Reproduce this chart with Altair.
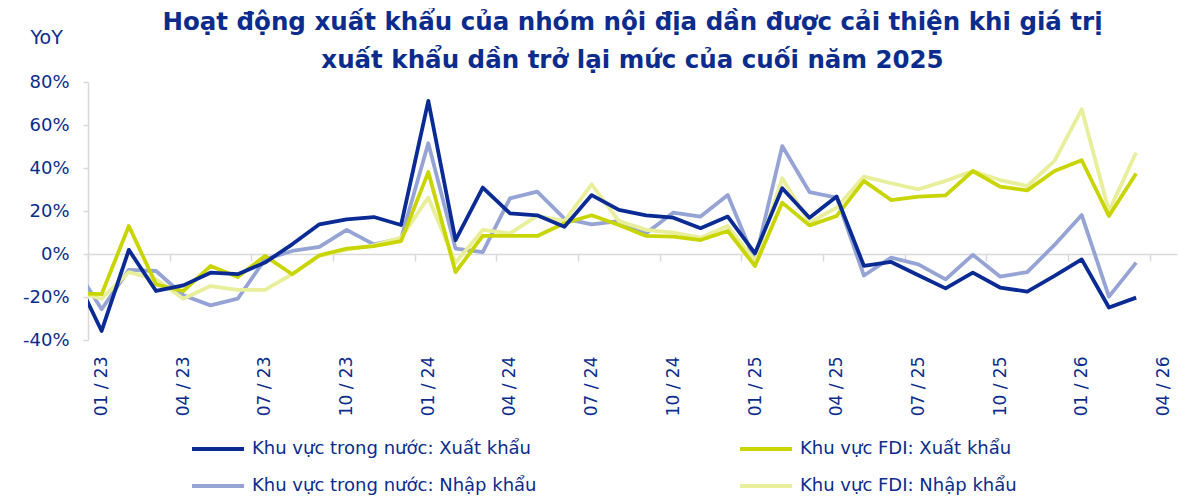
import altair as alt
import pandas as pd

# month index: -1 = 12/2022, 0 = 01/2023 ... 38 = 03/2026
month_index = list(range(-1, 39))

dom_export = [-9.4, -35.8, 1.9, -17.2, -14.6, -8.7, -9.4, -4.0, 4.5, 13.8,
              16.1, 17.2, 13.5, 71.2, 6.4, 30.9, 18.9, 18.0, 12.7, 27.4,
              20.5, 18.0, 16.9, 12.0, 17.4, 0.3, 30.6, 16.9, 26.7, -5.5,
              -3.7, -9.9, -16.0, -8.7, -15.6, -17.5, -10.2, -2.5, -24.9, -20.3]
fdi_export = [-18.1, -18.7, 13.0, -14.1, -17.2, -5.6, -10.7, -0.9, -9.4, -0.6,
              2.5, 3.7, 6.0, 38.1, -8.4, 8.4, 8.4, 8.4, 14.3, 18.0,
              13.5, 8.4, 8.1, 6.5, 10.7, -5.6, 23.9, 13.3, 17.7, 34.0,
              25.1, 26.7, 27.3, 38.6, 31.3, 29.6, 38.6, 43.6, 17.7, 37.4]
dom_import = [-5.5, -25.7, -7.4, -7.9, -19.2, -23.9, -20.8, -2.5, 1.4, 3.3,
              11.2, 4.5, 7.2, 51.5, 2.5, 0.9, 25.9, 29.0, 16.5, 13.8,
              15.3, 9.6, 19.3, 17.4, 27.4, -3.2, 50.2, 28.8, 26.2, -10.0,
              -1.7, -4.8, -11.8, -0.4, -10.5, -8.4, 4.2, 18.1, -19.8, -4.0]
fdi_import = [-17.4, -20.8, -8.4, -11.8, -20.8, -14.9, -16.7, -16.7, -9.4, -0.9,
              2.0, 4.0, 7.6, 26.2, -4.0, 11.2, 9.6, 17.7, 15.3, 32.4,
              15.3, 11.2, 9.9, 7.6, 13.0, -3.2, 35.2, 14.6, 21.6, 36.0,
              32.9, 30.1, 34.0, 38.6, 34.4, 31.6, 43.3, 67.3, 20.0, 47.2]

series_names = ["Khu vực trong nước: Xuất khẩu", "Khu vực FDI: Xuất khẩu",
                "Khu vực trong nước: Nhập khẩu", "Khu vực FDI: Nhập khẩu"]
series_colors = ["#0A2A94", "#C9D500", "#95A4D4", "#E8EE9A"]
draw_order = [2, 3, 1, 0]  # drawn bottom -> top

tick_labels = ["01 / 23", "04 / 23", "07 / 23", "10 / 23", "01 / 24", "04 / 24",
               "07 / 24", "10 / 24", "01 / 25", "04 / 25", "07 / 25", "10 / 25",
               "01 / 26", "04 / 26"]
y_ticks = [-40, -20, 0, 20, 40, 60, 80]
title_lines = ["Hoạt động xuất khẩu của nhóm nội địa dần được cải thiện khi giá trị",
               "xuất khẩu dần trở lại mức của cuối năm 2025"]

rows = []
for name, vals in zip(series_names, [dom_export, fdi_export, dom_import, fdi_import]):
    for m, v in zip(month_index, vals):
        rows.append({"m": m, "v": v, "s": name})
df = pd.DataFrame(rows)

TXT = "#0B2C8C"
GRID = "#D9D9D9"
FONT = "DejaVu Sans"

W, H = 1089, 258
ymin, ymax = -40, 80
zero_offset = -H * (0 - ymin) / (ymax - ymin)

x_tick_values = [-0.5 + 3 * k for k in range(len(tick_labels))]
label_expr = f"{tick_labels}[round((datum.value + 0.5) / 3)]"

x_enc = alt.X(
    "m:Q",
    scale=alt.Scale(domain=[-0.5, 39.5], nice=False, zero=False),
    axis=alt.Axis(
        values=x_tick_values, labelExpr=label_expr, title=None, grid=False,
        offset=zero_offset, domainColor=GRID, domainWidth=1.5,
        tickColor=GRID, tickWidth=1.5, tickSize=7,
        labelAngle=-90, labelPadding=95, labelOffset=13.6,
        labelOverlap=False, labelBound=False, labelFlush=False,
        labelColor=TXT, labelFont=FONT, labelFontSize=17,
    ),
)
y_enc = alt.Y(
    "v:Q",
    scale=alt.Scale(domain=[ymin, ymax], nice=False, zero=False),
    axis=alt.Axis(
        values=y_ticks, labelExpr="datum.value + '%'", grid=False,
        domainColor=GRID, domainWidth=1.5, tickColor=GRID, tickWidth=1.5, tickSize=5,
        labelPadding=14, labelColor=TXT, labelFont=FONT, labelFontSize=18,
        title="YoY", titleAngle=0, titleX=-58, titleY=-45, titleAlign="left",
        titleBaseline="middle", titleFont=FONT, titleFontSize=19,
        titleFontWeight="normal", titleColor=TXT,
    ),
)
color_enc = alt.Color(
    "s:N",
    scale=alt.Scale(domain=series_names, range=series_colors),
    legend=alt.Legend(
        title=None, orient="none", legendX=102, legendY=339, direction="horizontal",
        columns=2, columnPadding=195, rowPadding=-10,
        symbolType="stroke", symbolSize=2700, symbolStrokeWidth=3.8,
        labelFont=FONT, labelFontSize=18, labelColor=TXT, labelLimit=500,
        labelOffset=6,
    ),
)

layers = []
for idx in draw_order:
    layers.append(
        alt.Chart(df)
        .transform_filter(alt.datum.s == series_names[idx])
        .mark_line(strokeWidth=3.8, clip=True, strokeJoin="round")
        .encode(x=x_enc, y=y_enc, color=color_enc)
    )

chart = (
    alt.layer(*layers)
    .properties(
        width=W, height=H,
        title=alt.TitleParams(
            text=title_lines, anchor="middle", frame="group", offset=12, dy=57,
            font=FONT, fontSize=24.5, fontWeight="bold", color=TXT, lineHeight=38,
        ),
        padding={"left": 80, "top": 74, "right": 10, "bottom": 160},
        autosize=alt.AutoSizeParams(type="none"),
    )
    .configure_view(stroke=None)
)

chart.save("out.html", embed_options={"renderer": "svg", "actions": False})
